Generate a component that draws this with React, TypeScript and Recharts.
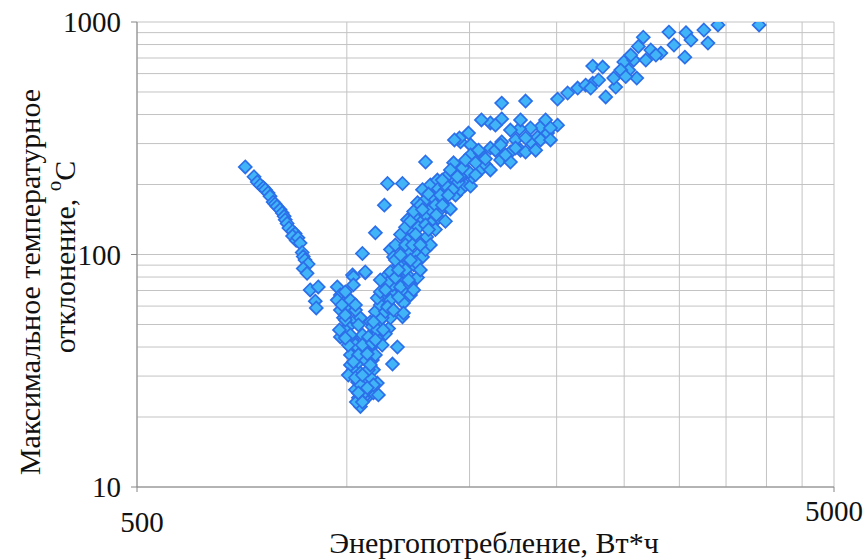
import { ScatterChart, Scatter, XAxis, YAxis, CartesianGrid } from "recharts"

// energy consumption, Wh  /  max temperature deviation, °C
const leftBranch: [number, number][] = [
  [715, 238], [736, 216], [744, 205], [751, 199], [759, 194], [764, 190], [771, 184],
  [776, 178], [784, 168], [789, 165], [794, 161], [802, 156], [808, 151], [813, 146],
  [816, 141], [821, 136], [826, 130], [836, 126], [843, 123], [836, 120], [846, 115],
  [851, 118], [857, 112], [863, 102], [866, 98], [871, 94.7], [880, 91], [866, 87],
  [877, 83], [886, 70.4], [910, 72.5], [901, 63], [904, 58.9],
]

const valley: [number, number][] = [
  [969, 72.5], [979, 67], [989, 61.9], [1002, 57.7], [989, 53.4], [1005, 48.9], [979, 44.2],
  [1019, 42.9], [1012, 40.0], [1022, 36.3], [1036, 34.1], [1022, 31.9], [1046, 30.9],
  [1036, 28.3], [1053, 26.2], [1039, 24.2], [1046, 22.2], [1032, 23.2], [1070, 24.4],
  [1092, 25.4], [1110, 24.9], [1106, 28.0], [1092, 31.9], [1088, 35.2], [1081, 39.6],
  [1110, 43.8], [1081, 51.3], [1117, 52.3], [1110, 57.7], [1128, 63.7], [1155, 68.3],
  [1144, 81.7], [1182, 72.5], [1206, 61.9], [1182, 40.0], [1163, 33.8], [1148, 48.0],
  [1202, 54.0], [1222, 81.7], [1247, 90.2], [1019, 81.7], [1063, 83.4], [995, 47.4],
  [1029, 52.3], [1053, 45.1], [1063, 38.8], [1012, 33.5], [1063, 28.9], [1074, 26.7],
  [1029, 26.2], [1005, 30.3], [1099, 37.0], [1124, 40.8], [1136, 45.6], [1046, 53.4],
  [979, 57.7], [969, 63.7], [995, 69.0], [1029, 40.8], [1074, 44.2], [1088, 48.9],
  [1046, 27.5], [1081, 29.5], [1056, 24.2], [1012, 37.0], [995, 52.3], [984, 60.7],
  [1099, 56.8], [1117, 60.7], [1155, 53.4], [1106, 65.0],
  [1012, 63.7], [1029, 57.7], [1039, 49.8], [1053, 40.8], [1063, 35.2], [1074, 31.9],
  [1029, 29.5], [1053, 30.3], [1039, 37.0], [1012, 45.1], [995, 54.9], [1070, 37.4],
  [1088, 41.6], [1106, 47.4], [1124, 53.4], [1148, 60.7], [1167, 67.0], [1186, 77.7],
  [1202, 70.4], [1163, 74.0], [1136, 56.8], [1099, 42.9], [1081, 33.5], [1092, 27.5],
  [1063, 25.7], [1039, 25.4], [1053, 23.2], [1070, 26.7], [1022, 34.5], [1005, 40.8],
  [995, 43.7], [976, 47.4], [1029, 60.7],
]

const risingBand: [number, number][] = [
  [1022, 80.1], [1022, 74.0], [1053, 101], [1063, 84.1], [1099, 124], [1132, 163],
  [1144, 202], [1202, 202], [1297, 250], [1155, 105], [1167, 97.6], [1206, 108],
  [1226, 101], [1263, 99.5], [1284, 97.6], [1155, 84.1], [1206, 88.4], [1255, 92.8],
  [1144, 75.5], [1194, 72.5], [1263, 79.6], [1117, 69.0], [1155, 63.7], [1206, 56.0],
  [1144, 59.5], [1092, 51.3], [1128, 47.4], [1174, 79.6], [1186, 90.2], [1234, 94.7],
  [1222, 115], [1242, 126], [1267, 131], [1222, 141], [1263, 167], [1275, 146],
  [1323, 137], [1302, 119], [1327, 185], [1371, 178], [1389, 160], [1362, 156],
  [1297, 172], [1318, 199], [1284, 190], [1255, 148], [1349, 209], [1194, 122],
  [1214, 131], [1234, 139], [1247, 153], [1275, 163], [1297, 148], [1310, 182],
  [1340, 172], [1353, 192], [1385, 190], [1408, 199], [1432, 209], [1398, 220],
  [1174, 110], [1214, 85.8], [1234, 74.0], [1186, 65.6], [1117, 77.7], [1136, 70.4],
  [1167, 57.7], [1234, 67.0], [1275, 85.8], [1297, 105], [1267, 113], [1318, 110],
  [1340, 128], [1353, 144], [1385, 139], [1408, 157], [1432, 180], [1456, 190],
  [1480, 199],
  [1174, 94.7], [1194, 99.5], [1214, 110], [1242, 110], [1186, 85.8], [1226, 77.7],
  [1247, 70.4], [1275, 110], [1255, 122], [1297, 134], [1318, 156], [1284, 156],
  [1340, 163], [1362, 180], [1385, 199], [1418, 190], [1446, 205], [1470, 220],
  [1310, 128], [1344, 148], [1371, 163], [1398, 180],
]

const upperTail: [number, number][] = [
  [1423, 248], [1456, 218], [1505, 197], [1456, 305], [1505, 296], [1408, 231],
  [1371, 209], [1441, 216], [1515, 216], [1555, 231], [1495, 333], [1451, 317],
  [1427, 311], [1505, 268], [1555, 273], [1607, 287], [1668, 305], [1717, 276],
  [1775, 281], [1835, 305], [1878, 320], [1941, 333], [2006, 360], [1897, 354],
  [1835, 350], [1769, 347], [1668, 383], [1607, 368], [1560, 379], [1668, 448],
  [1805, 457], [2006, 466], [2074, 495], [2144, 520], [2253, 546], [2352, 476],
  [2431, 525], [2415, 574], [2253, 646], [2329, 640], [2497, 673], [2538, 621],
  [2606, 574], [2580, 686], [2620, 785], [2663, 860], [2730, 758], [2822, 735],
  [2898, 905], [2947, 796], [3066, 900], [3055, 706], [3117, 836], [3253, 924],
  [3297, 812], [3408, 971], [3904, 971], [1634, 360], [1717, 343], [1775, 379],
  [1928, 379], [1960, 350], [2201, 535], [2298, 563], [2238, 520], [2472, 621],
  [2513, 582], [2555, 721], [2685, 686], [2776, 721], [1495, 227], [1530, 220],
  [1581, 243], [1607, 231], [1662, 255], [1717, 250], [1746, 311], [1805, 317],
  [1466, 236], [1480, 255], [1530, 248], [1581, 258], [1545, 281], [1634, 281],
  [1662, 296], [1689, 268], [1746, 287], [1805, 276], [1866, 281], [1897, 311],
  [1960, 311],
]

const xTicks = [500, 1000, 1500, 2000, 2500, 3000, 3500, 4000, 4500, 5000]
const yTicks = [10, 20, 30, 40, 50, 60, 70, 80, 90, 100, 200, 300, 400, 500, 600, 700, 800, 900, 1000]
const xLabeled = [500, 5000]
const yLabeled = [10, 100, 1000]

const points = [...leftBranch, ...valley, ...risingBand, ...upperTail].map(([x, y]) => ({ x, y }))

const FONT = "'Liberation Serif', 'DejaVu Serif', serif"
const AXIS = "#868686"
const textStyle = { fontFamily: FONT }

function Diamond(props: any) {
  const { cx, cy } = props
  if (cx == null || cy == null) return null
  const r = 6.5
  return (
    <polygon
      points={`${cx},${cy - r} ${cx + r},${cy} ${cx},${cy + r} ${cx - r},${cy}`}
      fill="#40b4f7"
      stroke="#2c6fe9"
      strokeWidth={1.7}
    />
  )
}

function XTick(props: any) {
  const { x, y, payload } = props
  if (!xLabeled.includes(payload.value)) return null
  // Excel draws the last label a little higher than the first one
  const dy = payload.value === 5000 ? 26 : 37
  const dx = payload.value === 5000 ? 0 : 5
  return (
    <g>
      <line x1={x} x2={x} y1={y - 8} y2={y - 3} stroke={AXIS} />
      <text x={x + dx} y={y + dy} textAnchor="middle" style={textStyle} fontSize={29} fill="#111">
        {payload.value}
      </text>
    </g>
  )
}

function YTick(props: any) {
  const { x, y, payload } = props
  if (!yLabeled.includes(payload.value)) return null
  return (
    <g>
      <line x1={x + 2} x2={x + 8} y1={y} y2={y} stroke={AXIS} />
      <text x={x - 8} y={y} dy="0.35em" textAnchor="end" style={textStyle} fontSize={29} fill="#111">
        {payload.value}
      </text>
    </g>
  )
}

export default function App() {
  return (
    <div style={{ position: "absolute", left: 0, top: 0, width: 868, height: 559, background: "#fff" }}>
      <ScatterChart width={868} height={559} margin={{ top: 22, right: 34, bottom: 12, left: 0 }}>
        <CartesianGrid stroke="#c3c3c3" strokeWidth={1} />
        <XAxis
          type="number"
          dataKey="x"
          scale="log"
          domain={[500, 5000]}
          ticks={xTicks}
          interval={0}
          height={60}
          stroke={AXIS}
          tickLine={false}
          tick={<XTick />}
          allowDataOverflow
        />
        <YAxis
          type="number"
          dataKey="y"
          scale="log"
          domain={[10, 1000]}
          ticks={yTicks}
          interval={0}
          width={137}
          stroke={AXIS}
          tickLine={false}
          tick={<YTick />}
          allowDataOverflow
        />
        <Scatter data={points} shape={<Diamond />} isAnimationActive={false} />
      </ScatterChart>
      <svg
        width={868}
        height={559}
        style={{ position: "absolute", left: 0, top: 0, pointerEvents: "none", fontFamily: FONT }}
        fill="#111"
      >
        <text x={494} y={553} textAnchor="middle" fontSize={30} style={textStyle}>
          Энергопотребление, Вт*ч
        </text>
        <text x={40} y={282} textAnchor="middle" fontSize={30} style={textStyle} transform="rotate(-90 40 282)">
          Максимальное температурное
        </text>
        <text x={75} y={257} textAnchor="middle" fontSize={30} style={textStyle} transform="rotate(-90 75 257)">
          отклонение,{" "}
          <tspan fontSize={21} dy={-14}>o</tspan>
          <tspan dy={14}>C</tspan>
        </text>
      </svg>
    </div>
  )
}
